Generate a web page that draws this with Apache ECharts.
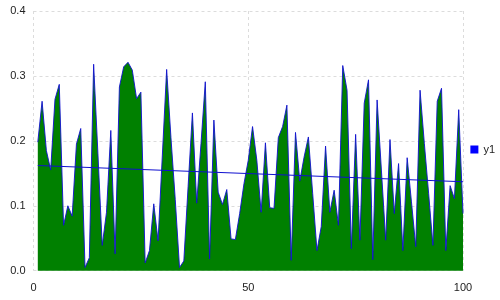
<!DOCTYPE html>
<html>
<head>
<meta charset="utf-8">
<script src="https://cdn.jsdelivr.net/npm/echarts@6/dist/echarts.min.js"></script>
<style>html,body{margin:0;padding:0;background:#fff}#c{width:500px;height:300px}</style>
</head>
<body>
<div id="c"></div>
<script>
const xValues = [1,2,3,4,5,6,7,8,9,10,11,12,13,14,15,16,17,18,19,20,21,22,23,24,25,26,27,28,29,30,31,32,33,34,35,36,37,38,39,40,41,42,43,44,45,46,47,48,49,50,51,52,53,54,55,56,57,58,59,60,61,62,63,64,65,66,67,68,69,70,71,72,73,74,75,76,77,78,79,80,81,82,83,84,85,86,87,88,89,90,91,92,93,94,95,96,97,98,99,100];
const y1 = [0.198,0.261,0.185,0.155,0.264,0.287,0.070,0.100,0.084,0.195,0.219,0.005,0.020,0.318,0.180,0.039,0.090,0.216,0.026,0.283,0.314,0.321,0.309,0.265,0.275,0.012,0.031,0.103,0.046,0.178,0.310,0.205,0.110,0.005,0.015,0.130,0.243,0.104,0.196,0.291,0.018,0.232,0.121,0.102,0.125,0.049,0.048,0.088,0.134,0.170,0.222,0.170,0.090,0.197,0.097,0.096,0.205,0.222,0.255,0.016,0.213,0.138,0.175,0.206,0.119,0.031,0.068,0.192,0.090,0.124,0.070,0.316,0.278,0.034,0.210,0.047,0.258,0.294,0.017,0.263,0.155,0.047,0.202,0.088,0.165,0.031,0.174,0.106,0.037,0.278,0.196,0.119,0.039,0.261,0.281,0.031,0.131,0.111,0.248,0.088];
const trendX = [1, 100];
const trendY = [0.162, 0.137];
const xTicks = [0, 50, 100];
const yTicks = [0.0, 0.1, 0.2, 0.3, 0.4];

const chart = echarts.init(document.getElementById('c'), null, {renderer: 'canvas'});
const gridStyle = {show: true, lineStyle: {color: '#dcdcdc', type: [3, 3], width: 1}};
chart.setOption({
  animation: false,
  backgroundColor: '#fff',
  grid: {left: 33.5, right: 37, top: 11, bottom: 29.3, containLabel: false},
  legend: {
    data: ['y1'], orient: 'vertical', right: 0, top: 139,
    itemWidth: 8, itemHeight: 8, icon: 'rect', itemGap: 4,
    textStyle: {fontSize: 11, color: '#222', fontFamily: 'Liberation Sans, Arial, sans-serif'}
  },
  xAxis: {
    type: 'value', min: xTicks[0], max: xTicks[xTicks.length - 1], interval: 50,
    axisLine: {show: false}, axisTick: {show: false},
    splitLine: gridStyle,
    axisLabel: {fontSize: 11, color: '#222', margin: 12, fontFamily: 'Liberation Sans, Arial, sans-serif'}
  },
  yAxis: {
    type: 'value', min: yTicks[0], max: yTicks[yTicks.length - 1], interval: 0.1,
    axisLine: {show: false}, axisTick: {show: false},
    splitLine: gridStyle,
    axisLabel: {fontSize: 11, color: '#222', margin: 8, fontFamily: 'Liberation Sans, Arial, sans-serif',
      formatter: v => v.toFixed(1)}
  },
  series: [
    {
      name: 'y1', type: 'line', symbol: 'none',
      data: xValues.map((x, i) => [x, y1[i]]),
      itemStyle: {color: '#0000ff'},
      lineStyle: {color: '#1010d0', width: 0.9},
      areaStyle: {color: '#008000', opacity: 1},
      z: 2
    },
    {
      name: 'trend', type: 'line', symbol: 'none',
      data: trendX.map((x, i) => [x, trendY[i]]),
      itemStyle: {color: '#0000ff'},
      lineStyle: {color: '#1010d0', width: 1},
      z: 3
    }
  ]
});
</script>
</body>
</html>
